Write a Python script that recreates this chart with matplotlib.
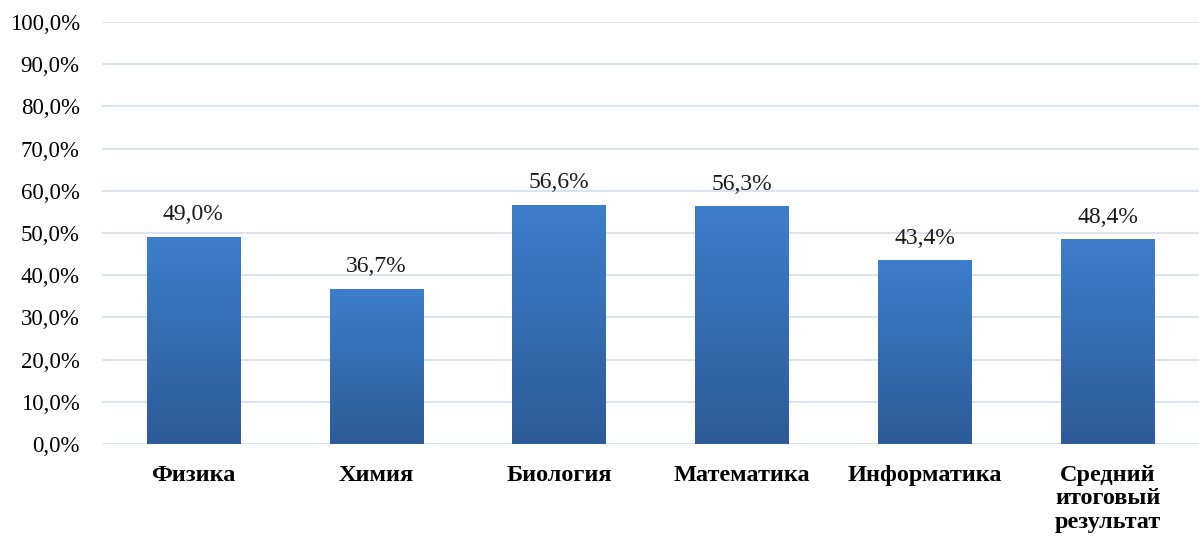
import numpy as np
import matplotlib.pyplot as plt
from matplotlib.colors import LinearSegmentedColormap
from matplotlib.ticker import FuncFormatter

categories = ['Физика', 'Химия', 'Биология', 'Математика', 'Информатика',
              'Средний\nитоговый\nрезультат']
values = [49.0, 36.7, 56.6, 56.3, 43.4, 48.4]
yticks = np.arange(0, 101, 10)

plt.rcParams['font.family'] = ['Liberation Serif', 'DejaVu Serif']

fig = plt.figure(figsize=(11.99, 5.4), dpi=100)
ax = fig.add_axes([0.085, 0.178, 0.915, 0.781])

x = np.arange(len(categories))
width = 0.51
bars = ax.bar(x, values, width=width, color='none', zorder=2)

# вертикальный градиент для каждого столбца
cmap = LinearSegmentedColormap.from_list('grad', ['#2d5b98', '#3d7ecc'])
grad = np.linspace(0, 1, 256).reshape(-1, 1)
for b in bars:
    x0, y0 = b.get_x(), b.get_y()
    ax.imshow(grad, cmap=cmap, origin='lower', aspect='auto',
              extent=[x0, x0 + b.get_width(), y0, y0 + b.get_height()],
              zorder=2)

for xi, v in zip(x, values):
    ax.text(xi, v + 2.8, f'{v:.1f}%'.replace('.', ','), ha='center',
            va='bottom', fontsize=17, color='#1a1a1a')

ax.set_xlim(-0.5, len(categories) - 0.5)
ax.set_ylim(0, 100)
ax.set_yticks(yticks)
ax.yaxis.set_major_formatter(FuncFormatter(lambda v, p: f'{v:.1f}%'.replace('.', ',')))
ax.set_xticks(x)
ax.set_xticklabels(categories, fontsize=17.5, fontweight='bold', va='top',
                   linespacing=1.17)
ax.tick_params(axis='y', labelsize=16.5, length=0, pad=16)
ax.tick_params(axis='x', length=0, pad=15)

ax.grid(axis='y', color='#d6e0f0', linewidth=1.3, zorder=0)
ax.set_axisbelow(True)
for s in ax.spines.values():
    s.set_visible(False)

fig.savefig('out.png', dpi=100)
